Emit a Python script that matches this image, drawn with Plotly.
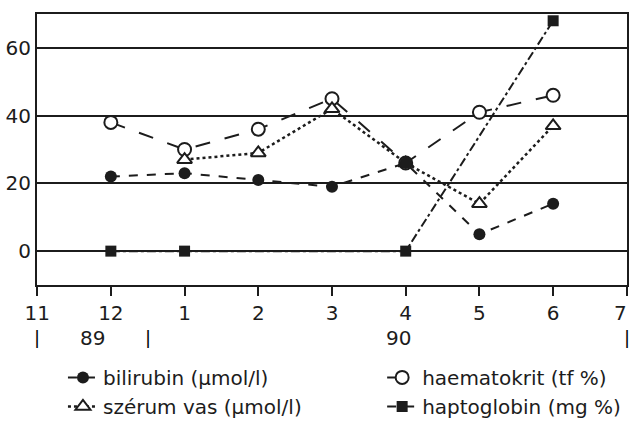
import plotly.graph_objects as go

# month positions: 11,12 of 1989 -> 11,12 ; 1..7 of 1990 -> 13..19
tick_pos = [11, 12, 13, 14, 15, 16, 17, 18, 19]
tick_labels = ["11", "12", "1", "2", "3", "4", "5", "6", "7"]

x_bili = [12, 13, 14, 15, 16, 17, 18]
bilirubin = [22, 23, 21, 19, 26, 5, 14]

x_haem = [12, 13, 14, 15, 16, 17, 18]
haematokrit = [38, 30, 36, 45, 26, 41, 46]

x_vas = [13, 14, 15, 16, 17, 18]
szerum_vas = [27, 29, 42, 26, 14, 37]

x_hapto = [12, 13, 16, 18]
haptoglobin = [0, 0, 0, 68]

year_marks = [11, 12.5, 19]
year_labels = [(11.75, "89"), (15.9, "90")]

INK = "#1c1c1c"
FONT = "DejaVu Sans"

fig = go.Figure()
fig.add_trace(go.Scatter(
    x=x_haem, y=haematokrit, mode="lines+markers", name="haematokrit (tf %)",
    legend="legend2", legendrank=1,
    line=dict(color=INK, width=2, dash="longdash"),
    marker=dict(symbol="circle", size=13, color="white", line=dict(color=INK, width=2)),
))
fig.add_trace(go.Scatter(
    x=x_vas, y=szerum_vas, mode="lines+markers", name="szérum vas (µmol/l)",
    legend="legend", legendrank=2,
    line=dict(color=INK, width=2.5, dash="dot"),
    marker=dict(symbol="triangle-up", size=13, color="white", line=dict(color=INK, width=2)),
))
fig.add_trace(go.Scatter(
    x=x_bili, y=bilirubin, mode="lines+markers", name="bilirubin (µmol/l)",
    legend="legend", legendrank=1,
    line=dict(color=INK, width=2, dash="dash"),
    marker=dict(symbol="circle", size=12, color=INK),
))
fig.add_trace(go.Scatter(
    x=x_hapto, y=haptoglobin, mode="lines+markers", name="haptoglobin (mg %)",
    legend="legend2", legendrank=2,
    line=dict(color=INK, width=2, dash="dashdot"),
    marker=dict(symbol="square", size=11, color=INK),
))

annotations = []
# last month label sits at the right border; place it nudged inward so it is not cut off
annotations.append(dict(x=tick_pos[-1], y=-0.104, xref="x", yref="paper", text=tick_labels[-1],
                        showarrow=False, font=dict(family=FONT, size=20, color=INK),
                        xanchor="center", yanchor="middle", xshift=-6))
for xm in year_marks:
    annotations.append(dict(x=xm, y=-0.195, xref="x", yref="paper", text="|",
                            showarrow=False, font=dict(family=FONT, size=18, color="#000000"),
                            xanchor="center", yanchor="middle"))
for xm, lab in year_labels:
    annotations.append(dict(x=xm, y=-0.195, xref="x", yref="paper", text=lab,
                            showarrow=False, font=dict(family=FONT, size=20, color=INK),
                            xanchor="center", yanchor="middle"))

legend_common = dict(orientation="v", yanchor="top", y=-0.269, traceorder="normal",
                     font=dict(family=FONT, size=20, color=INK), bgcolor="rgba(0,0,0,0)")

fig.update_layout(
    width=631, height=424,
    margin=dict(l=37, r=4, t=14, b=139, autoexpand=False),
    paper_bgcolor="white", plot_bgcolor="white",
    font=dict(family=FONT, size=20, color=INK),
    showlegend=True,
    legend=dict(x=0.044, xanchor="left", **legend_common),
    legend2=dict(x=0.585, xanchor="left", **legend_common),
    annotations=annotations,
    xaxis=dict(range=[10.998, 19.002], tickmode="array", tickvals=tick_pos,
               ticktext=tick_labels[:-1] + [""],
               ticks="outside", ticklen=9, tickwidth=2, tickcolor=INK,
               ticklabeloverflow="allow",
               showgrid=False, zeroline=False, showline=True, linewidth=2, linecolor=INK,
               mirror=True, tickfont=dict(family=FONT, size=20, color=INK)),
    yaxis=dict(range=[-10, 70], tickmode="array", tickvals=[0, 20, 40, 60],
               ticks="", showgrid=True, gridcolor=INK, gridwidth=1.5, zeroline=False,
               showline=True, linewidth=2, linecolor=INK, mirror=True,
               tickfont=dict(family=FONT, size=20, color=INK)),
)

fig.write_html("out.html")
